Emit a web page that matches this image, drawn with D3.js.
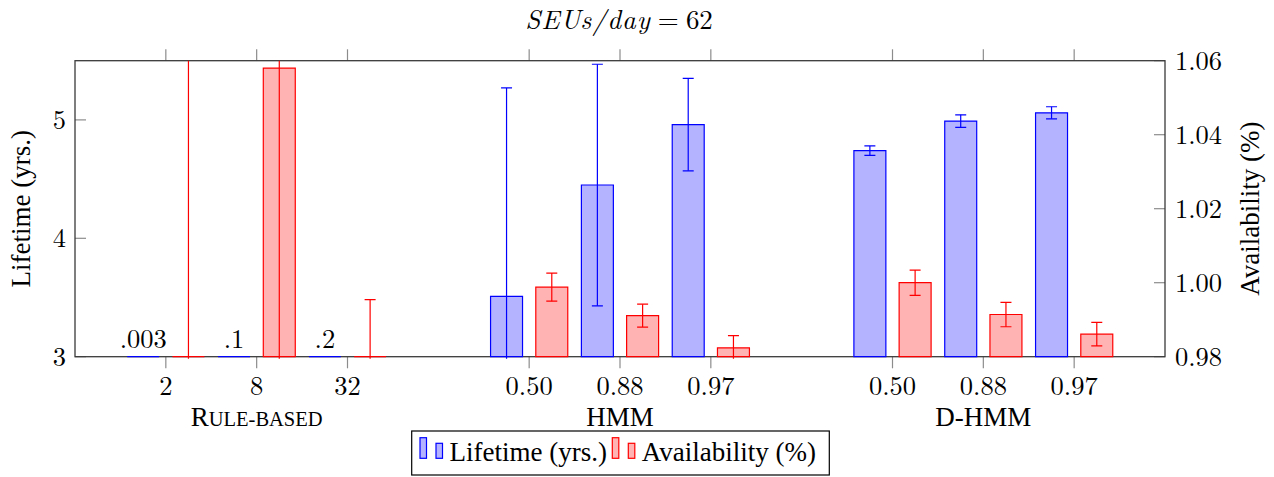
<!DOCTYPE html>
<html>
<head>
<meta charset="utf-8">
<script src="https://cdn.jsdelivr.net/npm/d3@7"></script>
<style>
  body { margin: 0; background: #fff; }
</style>
</head>
<body>
<svg id="chart"></svg>
<script>
var groups = ["Rule-based", "HMM", "D-HMM"];
var tickLabels = ["2", "8", "32", "0.50", "0.88", "0.97", "0.50", "0.88", "0.97"];
var lifetime = [0.003, 0.1, 0.2, 3.51, 4.45, 4.96, 4.74, 4.99, 5.06];
var lifetimeErr = [0, 0, 0, 1.76, 1.02, 0.39, 0.04, 0.053, 0.051];
var availability = [0.95, 1.058, 0.96, 0.9988, 0.9911, 0.9824, 1.0000, 0.9914, 0.9861];
var availabilityErr = [0.2, 0.1, 0.0354, 0.0038, 0.0031, 0.0033, 0.0034, 0.0033, 0.0032];
var leftTicks = [3, 4, 5];
var rightTicks = [0.98, 1.00, 1.02, 1.04, 1.06];

var W = 1274, H = 477;
var margin = {top: 60.7, right: 109, bottom: 120.3, left: 75}
  , width = W - margin.left - margin.right
  , height = H - margin.top - margin.bottom;
var cm = "'Latin Modern Roman'", times = "'Liberation Serif'";

var svg = d3.select("#chart").attr("width", W).attr("height", H);
var g = svg.append("g").attr("transform", "translate(" + margin.left + "," + margin.top + ")");

// each group takes three slots plus one empty slot between groups
var pos = tickLabels.map(function(d, i){ return Math.floor(i / 3) * 4 + i % 3; });

var x = d3.scaleLinear().domain([-1, 11]).range([0, width]);
var yL = d3.scaleLinear().domain([3, 5.5]).range([height, 0]);
var yR = d3.scaleLinear().domain([0.98, 1.06]).range([height, 0]);

var barW = x(0.352) - x(0), off = x(0.249) - x(0);
var series = [
  {name: "Lifetime (yrs.)", vals: lifetime, err: lifetimeErr, y: yL, dx: -off, stroke: "#0000ff", fill: "#b3b3ff"},
  {name: "Availability (%)", vals: availability, err: availabilityErr, y: yR, dx: off, stroke: "#ff0000", fill: "#ffb3b3"}
];

g.append("clipPath").attr("id", "plotclip")
  .append("rect").attr("x", -2).attr("y", 0).attr("width", width + 4).attr("height", height + 2);

// ticks
var tickCol = "#8c8c8c";
g.selectAll("line.xt").data(pos).enter().append("line")
  .attr("x1", function(d){ return x(d); }).attr("x2", function(d){ return x(d); })
  .attr("y1", height).attr("y2", height + 11.6)
  .attr("stroke", tickCol).attr("stroke-width", 1.2);
g.selectAll("line.xtt").data(pos).enter().append("line")
  .attr("x1", function(d){ return x(d); }).attr("x2", function(d){ return x(d); })
  .attr("y1", 0).attr("y2", -11.4)
  .attr("stroke", tickCol).attr("stroke-width", 1.2);
g.selectAll("line.yl").data(leftTicks).enter().append("line")
  .attr("x1", 0).attr("x2", 11).attr("y1", function(d){ return yL(d); }).attr("y2", function(d){ return yL(d); })
  .attr("stroke", tickCol).attr("stroke-width", 1.2);
g.selectAll("line.yr").data(rightTicks).enter().append("line")
  .attr("x1", width - 11).attr("x2", width).attr("y1", function(d){ return yR(d); }).attr("y2", function(d){ return yR(d); })
  .attr("stroke", tickCol).attr("stroke-width", 1.2);

// frame
g.append("rect").attr("width", width).attr("height", height)
  .attr("fill", "none").attr("stroke", "#3a3a3a").attr("stroke-width", 1.3);

var plot = g.append("g").attr("clip-path", "url(#plotclip)");

series.forEach(function(s){
  var lo = s.y.domain()[0];
  var rows = s.vals.map(function(v, i){
    return {v: v, e: s.err[i], cx: x(pos[i]) + s.dx};
  });

  plot.selectAll(null).data(rows).enter().append("path")
    .attr("d", function(d){
      var x0 = d.cx - barW / 2, x1 = d.cx + barW / 2;
      var yt = s.y(Math.max(d.v, lo)), yb = s.y(lo);
      return "M" + x0 + "," + yb + "V" + yt + "H" + x1 + "V" + yb + "Z";
    })
    .attr("fill", s.fill).attr("stroke", s.stroke).attr("stroke-width", 1.2);

  var eb = plot.selectAll(null).data(rows.filter(function(d){ return d.e > 0; }))
    .enter().append("g")
    .attr("stroke", s.stroke).attr("stroke-width", 1.2);
  eb.append("line")
    .attr("x1", function(d){ return d.cx; }).attr("x2", function(d){ return d.cx; })
    .attr("y1", function(d){ return s.y(d.v - d.e); })
    .attr("y2", function(d){ return s.y(d.v + d.e); });
  [-1, 1].forEach(function(sign){
    eb.append("line")
      .attr("x1", function(d){ return d.cx - 5.5; })
      .attr("x2", function(d){ return d.cx + 5.5; })
      .attr("y1", function(d){ return s.y(d.v + sign * d.e); })
      .attr("y2", function(d){ return s.y(d.v + sign * d.e); });
  });
});

// values below the axis get a label
var low = lifetime.map(function(v, i){ return {v: v, cx: x(pos[i]) - off}; })
  .filter(function(d){ return d.v < yL.domain()[0]; });
g.selectAll("text.vl").data(low).enter().append("text")
  .attr("x", function(d){ return d.cx; })
  .attr("y", height - 8.5)
  .attr("text-anchor", "middle").attr("font-family", cm).attr("font-size", 26.5)
  .text(function(d){ return String(d.v).replace(/^0/, ""); });

// tick labels
g.selectAll("text.ylab").data(leftTicks).enter().append("text")
  .attr("x", -9).attr("y", function(d){ return yL(d) + 9; })
  .attr("text-anchor", "end").attr("font-family", cm).attr("font-size", 26.5)
  .text(function(d){ return d; });
g.selectAll("text.yrlab").data(rightTicks).enter().append("text")
  .attr("x", width + 10).attr("y", function(d){ return yR(d) + 9; })
  .attr("font-family", cm).attr("font-size", 26.5)
  .text(function(d){ return d3.format(".2f")(d); });
g.selectAll("text.xlab").data(tickLabels).enter().append("text")
  .attr("x", function(d, i){ return x(pos[i]); }).attr("y", height + 38.5)
  .attr("text-anchor", "middle").attr("font-family", cm).attr("font-size", 26.5)
  .text(function(d){ return d; });

var gl = g.selectAll("text.glab").data(groups).enter().append("text")
  .attr("x", function(d, i){ return x(i * 4 + 1); }).attr("y", height + 69.5)
  .attr("text-anchor", "middle").attr("font-family", times).attr("font-size", 27);
gl.each(function(d){
  var t = d3.select(this);
  if (d === "Rule-based") {
    t.append("tspan").text("R");
    t.append("tspan").attr("font-size", 20.5).text("ULE-BASED");
  } else {
    t.text(d);
  }
});

// axis titles
svg.append("text")
  .attr("transform", "translate(29.5," + (margin.top + height / 2) + ") rotate(-90)")
  .attr("text-anchor", "middle").attr("font-family", times).attr("font-size", 27)
  .text("Lifetime (yrs.)");
svg.append("text")
  .attr("transform", "translate(1259," + (margin.top + height / 2) + ") rotate(-90)")
  .attr("text-anchor", "middle").attr("font-family", times).attr("font-size", 27)
  .text("Availability (%)");

var title = svg.append("text")
  .attr("x", margin.left + width / 2 - 1).attr("y", 29)
  .attr("text-anchor", "middle").attr("font-family", cm).attr("font-size", 27);
title.append("tspan").attr("font-style", "italic").attr("letter-spacing", 1).text("SEUs/day");
title.append("tspan").attr("dx", 7).text("=");
title.append("tspan").attr("dx", 7).text("62");

// legend
var lg = svg.append("g");
lg.append("rect").attr("x", 411.7).attr("y", 431).attr("width", 417.6).attr("height", 44)
  .attr("fill", "#fff").attr("stroke", "#000").attr("stroke-width", 1.2);
var lx = [420, 612.3];
series.forEach(function(s, i){
  lg.append("rect").attr("x", lx[i]).attr("y", 437.7).attr("width", 6.5).attr("height", 20.6)
    .attr("fill", s.fill).attr("stroke", s.stroke).attr("stroke-width", 1.2);
  lg.append("rect").attr("x", lx[i] + 16).attr("y", 443.3).attr("width", 6.5).attr("height", 15)
    .attr("fill", s.fill).attr("stroke", s.stroke).attr("stroke-width", 1.2);
  lg.append("text").attr("x", lx[i] + 29.5).attr("y", 460.5)
    .attr("font-family", times).attr("font-size", 27).text(s.name);
});
</script>
</body>
</html>
